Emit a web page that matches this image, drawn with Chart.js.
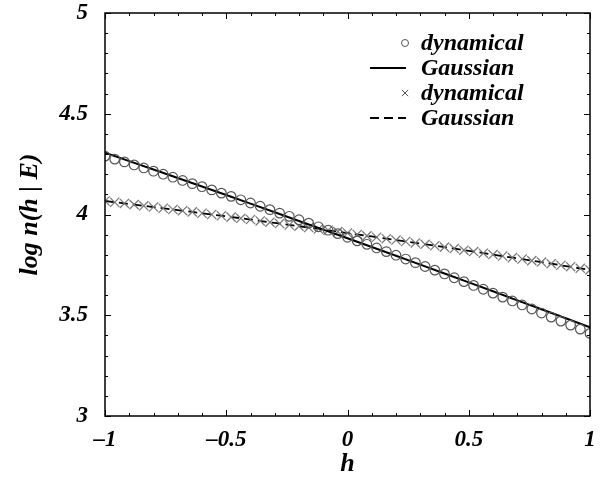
<!DOCTYPE html>
<html>
<head>
<meta charset="utf-8">
<script src="https://cdn.jsdelivr.net/npm/chart.js@4.4.1/dist/chart.umd.min.js"></script>
<style>
  html, body { margin: 0; padding: 0; background: #fff; }
  #wrap { width: 605px; height: 480px; }
</style>
</head>
<body>
<div id="wrap"><canvas id="chart" width="605" height="480"></canvas></div>
<script>
// h grid for the measured points (step 0.04)
const hPoints = [
  -1.00, -0.96, -0.92, -0.88, -0.84, -0.80, -0.76, -0.72, -0.68, -0.64,
  -0.60, -0.56, -0.52, -0.48, -0.44, -0.40, -0.36, -0.32, -0.28, -0.24,
  -0.20, -0.16, -0.12, -0.08, -0.04, 0.00, 0.04, 0.08, 0.12, 0.16,
  0.20, 0.24, 0.28, 0.32, 0.36, 0.40, 0.44, 0.48, 0.52, 0.56,
  0.60, 0.64, 0.68, 0.72, 0.76, 0.80, 0.84, 0.88, 0.92, 0.96, 1.00
];
// circles (dynamical, steeper set)
const dynCircle = [
  4.290, 4.275, 4.261, 4.246, 4.231, 4.215, 4.200, 4.185, 4.169, 4.153,
  4.138, 4.122, 4.106, 4.090, 4.073, 4.057, 4.041, 4.024, 4.007, 3.991,
  3.974, 3.957, 3.939, 3.922, 3.905, 3.887, 3.869, 3.852, 3.834, 3.816,
  3.798, 3.779, 3.761, 3.742, 3.724, 3.705, 3.686, 3.667, 3.648, 3.629,
  3.610, 3.590, 3.571, 3.551, 3.531, 3.511, 3.491, 3.471, 3.451, 3.431, 3.410
];
// crosses (dynamical, flatter set)
const dynCross = [
  4.067, 4.061, 4.055, 4.049, 4.043, 4.037, 4.031, 4.025, 4.019, 4.013,
  4.006, 4.000, 3.994, 3.987, 3.981, 3.975, 3.968, 3.962, 3.955, 3.948,
  3.942, 3.935, 3.928, 3.922, 3.915, 3.908, 3.901, 3.894, 3.887, 3.880,
  3.873, 3.866, 3.859, 3.852, 3.845, 3.838, 3.831, 3.823, 3.816, 3.808,
  3.801, 3.794, 3.786, 3.779, 3.771, 3.764, 3.756, 3.748, 3.741, 3.733, 3.725
];
// Gaussian curves (step 0.1)
const hLine = [
  -1.0, -0.9, -0.8, -0.7, -0.6, -0.5, -0.4, -0.3, -0.2, -0.1, 0.0,
  0.1, 0.2, 0.3, 0.4, 0.5, 0.6, 0.7, 0.8, 0.9, 1.0
];
const gaussSolid = [
  4.307, 4.265, 4.223, 4.181, 4.139, 4.097, 4.054, 4.011, 3.968, 3.925, 3.882,
  3.839, 3.795, 3.751, 3.707, 3.663, 3.619, 3.574, 3.530, 3.485, 3.440
];
const gaussDashed = [
  4.067, 4.052, 4.037, 4.022, 4.006, 3.991, 3.975, 3.958, 3.942, 3.925, 3.908,
  3.891, 3.873, 3.856, 3.838, 3.820, 3.801, 3.782, 3.764, 3.744, 3.725
];
const xTicks = [-1, -0.5, 0, 0.5, 1];
const yTicks = [3, 3.5, 4, 4.5, 5];
const labels = ['dynamical', 'Gaussian', 'dynamical', 'Gaussian'];

const FONT = '"Liberation Serif", "Times New Roman", serif';

const pairs = (xs, ys) => xs.map((x, i) => ({ x: x, y: ys[i] }));
const fmt = v => (v < 0 ? '\u2013' + Math.abs(v) : String(v));
// keep the plot box where the reference has it: no extra room for overhanging labels
const noOverhang = s => { s.paddingTop = 0; s.paddingBottom = 0; s.paddingLeft = 0; s.paddingRight = 0; };

// inward ticks on all four sides + frame
const framePlugin = {
  id: 'frame',
  afterDraw(chart) {
    const { ctx, chartArea: a, scales } = chart;
    const xs = scales.x, ys = scales.y;
    ctx.save();
    ctx.strokeStyle = '#000';
    ctx.lineWidth = 1;
    for (let k = 0; k <= 20; k++) {
      const v = xTicks[0] + k * 0.1;
      const px = Math.round(xs.getPixelForValue(v)) + 0.5;
      const len = k % 5 === 0 ? 6 : 3;
      ctx.beginPath();
      ctx.moveTo(px, a.bottom); ctx.lineTo(px, a.bottom - len);
      ctx.moveTo(px, a.top); ctx.lineTo(px, a.top + len);
      ctx.stroke();
    }
    for (let k = 0; k <= 20; k++) {
      const v = yTicks[0] + k * 0.1;
      const py = Math.round(ys.getPixelForValue(v)) + 0.5;
      const len = k % 5 === 0 ? 6 : 3;
      ctx.beginPath();
      ctx.moveTo(a.left, py); ctx.lineTo(a.left + len, py);
      ctx.moveTo(a.right, py); ctx.lineTo(a.right - len, py);
      ctx.stroke();
    }
    ctx.lineWidth = 1.5;
    ctx.strokeRect(a.left, a.top, a.right - a.left, a.bottom - a.top);
    ctx.restore();
  }
};

// legend in the upper right of the plot
const keyPlugin = {
  id: 'key',
  afterDraw(chart) {
    const ctx = chart.ctx;
    ctx.save();
    chart.data.datasets.forEach((ds, i) => {
      const y = 43 + i * 25;
      ctx.strokeStyle = ds.showLine ? ds.borderColor : '#555';
      if (ds.showLine) {
        ctx.lineWidth = ds.borderWidth;
        ctx.setLineDash(ds.borderDash || []);
        ctx.beginPath();
        ctx.moveTo(370, y); ctx.lineTo(406, y);
        ctx.stroke();
        ctx.setLineDash([]);
      } else {
        ctx.lineWidth = 1;
        ctx.fillStyle = 'rgba(0,0,0,0)';
        Chart.helpers.drawPoint(ctx, { pointStyle: ds.pointStyle, radius: ds.pointStyle === 'circle' ? 3.5 : 4.5, borderWidth: 1 }, 405, y);
      }
      ctx.fillStyle = '#000';
      ctx.font = 'italic bold 24px ' + FONT;
      ctx.textBaseline = 'middle';
      ctx.fillText(ds.label, 421, y + 1);
    });
    ctx.restore();
  }
};

new Chart(document.getElementById('chart'), {
  type: 'scatter',
  data: {
    datasets: [
      {
        label: labels[0],
        data: pairs(hPoints, dynCircle),
        pointStyle: 'circle',
        pointRadius: 4.8,
        borderColor: '#555',
        backgroundColor: 'rgba(0,0,0,0)',
        borderWidth: 1.2,
        showLine: false
      },
      {
        label: labels[1],
        data: pairs(hLine, gaussSolid),
        showLine: true,
        pointRadius: 0,
        borderColor: '#000',
        borderWidth: 2,
        fill: false
      },
      {
        label: labels[2],
        data: pairs(hPoints, dynCross),
        pointStyle: 'crossRot',
        pointRadius: 6.5,
        borderColor: '#777',
        backgroundColor: 'rgba(0,0,0,0)',
        borderWidth: 1.2,
        showLine: false
      },
      {
        label: labels[3],
        data: pairs(hLine, gaussDashed),
        showLine: true,
        pointRadius: 0,
        borderColor: '#000',
        borderWidth: 1.8,
        borderDash: [9, 5],
        fill: false
      }
    ]
  },
  options: {
    responsive: false,
    animation: false,
    devicePixelRatio: 1,
    layout: { padding: { top: 13, right: 15, left: 0, bottom: 0 } },
    plugins: {
      legend: { display: false },
      tooltip: { enabled: false }
    },
    scales: {
      x: {
        type: 'linear',
        min: xTicks[0],
        max: xTicks[xTicks.length - 1],
        afterBuildTicks: s => { s.ticks = xTicks.map(v => ({ value: v })); },
        afterFit: s => { s.height = 64; noOverhang(s); },
        grid: { display: false, drawTicks: false },
        border: { display: false },
        ticks: {
          padding: 10,
          color: '#000',
          font: { family: FONT, size: 23, style: 'italic', weight: 'bold' },
          callback: v => fmt(v),
          maxRotation: 0
        },
        title: {
          display: true,
          text: 'h',
          color: '#000',
          padding: { top: 0, bottom: 0 },
          font: { family: FONT, size: 26, style: 'italic', weight: 'bold' }
        }
      },
      y: {
        type: 'linear',
        min: yTicks[0],
        max: yTicks[yTicks.length - 1],
        afterBuildTicks: s => { s.ticks = yTicks.map(v => ({ value: v })); },
        afterFit: s => { s.width = 105; noOverhang(s); },
        grid: { display: false, drawTicks: false },
        border: { display: false },
        ticks: {
          padding: 17,
          color: '#000',
          font: { family: FONT, size: 23, style: 'italic', weight: 'bold' },
          callback: v => fmt(v)
        },
        title: {
          display: true,
          text: 'log n(h | E)',
          color: '#000',
          padding: { top: 15, bottom: 0 },
          font: { family: FONT, size: 26, style: 'italic', weight: 'bold' }
        }
      }
    }
  },
  plugins: [framePlugin, keyPlugin]
});
</script>
</body>
</html>
